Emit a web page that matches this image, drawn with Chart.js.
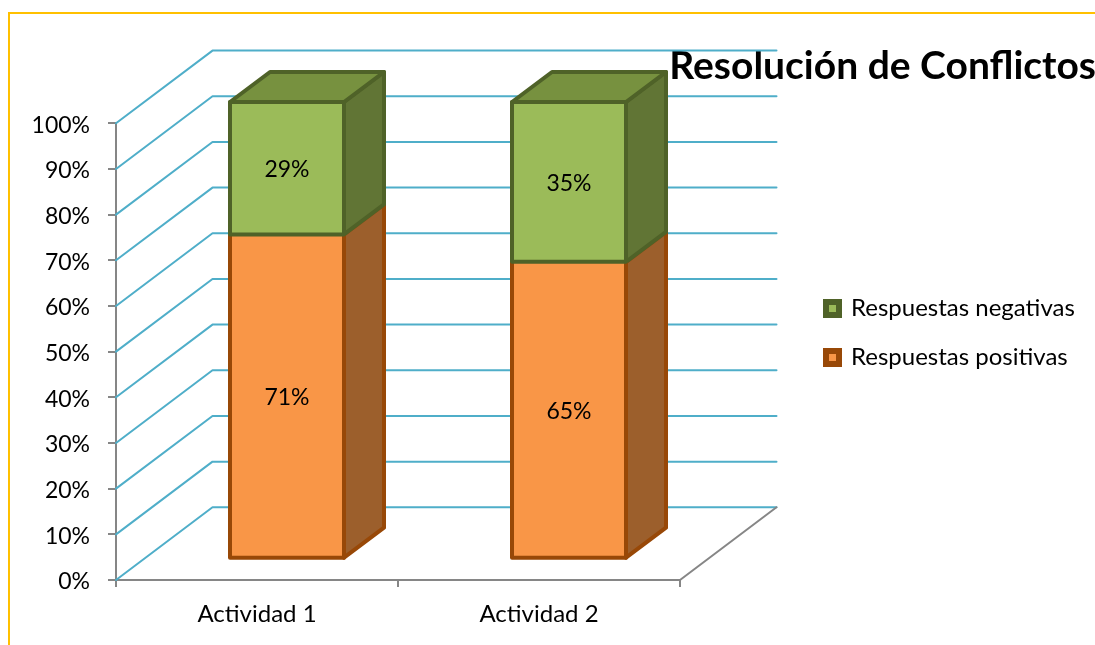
<!DOCTYPE html>
<html><head><meta charset="utf-8">
<style>html,body{margin:0;padding:0;background:#fff;overflow:hidden}canvas{display:block}
#frame{position:absolute;left:8px;top:12px;width:1200px;height:800px;border:2px solid #FFC000;box-sizing:border-box}</style>
<script src="https://cdn.jsdelivr.net/npm/chart.js@4"></script>
</head><body>
<canvas id="c" width="1095" height="645" style="width:1095px;height:645px"></canvas>
<div id="frame"></div>
<script>
const categories = ['Actividad 1', 'Actividad 2'];
const positivas = [71, 65];
const negativas = [29, 35];
const seriesNames = ['Respuestas positivas', 'Respuestas negativas'];
const chartTitle = 'Resolución de Conflictos';

const FONT = 'Lato';
const WALL = {dx: 96.5, dy: 72.7};
const SHIFT = {dx: 30, dy: 21.3};
const DEPTH = {dx: 40, dy: 30};
const SIDE = ['#9C5F2C', '#617535'];
const EDGE = ['#984807', '#4F6228'];
const TOP = '#77913F';
const GRID = '#4FAEC9';
const AXIS = '#868686';
const LW = 4;

function poly(ctx, pts, fill, stroke, lw) {
  ctx.beginPath();
  pts.forEach((p, i) => i ? ctx.lineTo(p[0], p[1]) : ctx.moveTo(p[0], p[1]));
  if (fill) { ctx.closePath(); ctx.fillStyle = fill; ctx.fill(); }
  ctx.strokeStyle = stroke; ctx.lineWidth = lw; ctx.lineJoin = 'round'; ctx.lineCap = 'round'; ctx.stroke();
}

const bars3d = {
  id: 'bars3d',
  afterLayout(chart) {
    const t = chart.titleBlock;
    t.left = 600; t.right = 1096; t.top = 43; t.bottom = 90;
    const l = chart.legend;
    l.left = 801; l.right = 1095; l.top = 271.5; l.bottom = 420;
  },
  beforeDatasetsDraw(chart) {
    const {ctx, scales: {x, y}, chartArea: a} = chart;
    ctx.save();
    y.ticks.forEach(t => {
      const py = y.getPixelForValue(t.value);
      poly(ctx, [[a.left, py], [a.left + WALL.dx, py - WALL.dy], [a.right + WALL.dx, py - WALL.dy]], null, GRID, 2);
    });
    const y0 = y.getPixelForValue(0);
    poly(ctx, [[a.right, y0], [a.right + WALL.dx, y0 - WALL.dy]], null, AXIS, 2);
    ctx.restore();
    ctx.save();
    ctx.translate(SHIFT.dx, -SHIFT.dy);
    chart.data.datasets.forEach((ds, di) => {
      chart.getDatasetMeta(di).data.forEach(el => {
        const r = el.x + el.width / 2, l = el.x - el.width / 2;
        poly(ctx, [[r, el.y], [r + DEPTH.dx, el.y - DEPTH.dy], [r + DEPTH.dx, el.base - DEPTH.dy], [r, el.base]], SIDE[di], EDGE[di], LW);
        if (di === chart.data.datasets.length - 1) {
          poly(ctx, [[l, el.y], [l + DEPTH.dx, el.y - DEPTH.dy], [r + DEPTH.dx, el.y - DEPTH.dy], [r, el.y]], TOP, EDGE[di], LW);
        }
      });
    });
  },
  afterDatasetsDraw(chart) {
    const {ctx} = chart;
    chart.data.datasets.forEach((ds, di) => {
      chart.getDatasetMeta(di).data.forEach(el => {
        const r = el.x + el.width / 2, l = el.x - el.width / 2;
        if (di === 0) poly(ctx, [[l, el.y], [l, el.base], [r, el.base], [r, el.y]], null, EDGE[0], LW);
      });
    });
    chart.data.datasets.forEach((ds, di) => {
      chart.getDatasetMeta(di).data.forEach(el => {
        const r = el.x + el.width / 2, l = el.x - el.width / 2;
        if (di === 1) poly(ctx, [[l, el.y], [r, el.y], [r, el.base], [l, el.base]], 'transparent', EDGE[1], LW);
      });
    });
    ctx.font = '23px ' + FONT;
    ctx.fillStyle = '#000';
    ctx.textAlign = 'center';
    ctx.textBaseline = 'middle';
    chart.data.datasets.forEach((ds, di) => {
      chart.getDatasetMeta(di).data.forEach((el, i) => {
        ctx.fillText(ds.data[i] + '%', el.x, (el.y + el.base) / 2 + 1.5);
      });
    });
    ctx.restore();
  }
};

new Chart(document.getElementById('c'), {
  type: 'bar',
  plugins: [bars3d],
  data: {
    labels: categories,
    datasets: [
      {label: seriesNames[0], data: positivas, backgroundColor: '#F99647', borderColor: EDGE[0], borderWidth: 0, clip: false},
      {label: seriesNames[1], data: negativas, backgroundColor: '#9BBB59', borderColor: EDGE[1], borderWidth: 0, clip: false}
    ]
  },
  options: {
    responsive: false,
    animation: false,
    layout: {padding: {left: 0, top: 76.5, right: 415, bottom: 0}},
    datasets: {bar: {barThickness: 114}},
    plugins: {
      tooltip: {enabled: false},
      title: {display: true, text: chartTitle, align: 'end', color: '#000', padding: 0,
        font: {family: FONT, size: 39, weight: 'bold'}},
      legend: {position: 'chartArea', reverse: true, align: 'start',
        labels: {color: '#000', boxWidth: 13, boxHeight: 13, padding: 25,
          font: {family: FONT, size: 24},
          generateLabels(chart) {
            return chart.data.datasets.map((d, i) => ({text: d.label, fillStyle: d.backgroundColor,
              strokeStyle: d.borderColor, lineWidth: 6, datasetIndex: i, hidden: false}));
          }}}
    },
    scales: {
      x: {
        stacked: true,
        afterFit(s) { s.height = 65; },
        border: {color: AXIS, width: 2},
        grid: {drawOnChartArea: false, drawTicks: true, tickLength: 7, color: AXIS, lineWidth: 2},
        ticks: {color: '#000', padding: 13, maxRotation: 0, font: {family: FONT, size: 24}}
      },
      y: {
        stacked: true, min: 0, max: 100,
        afterFit(s) { s.width = 116; },
        border: {color: AXIS, width: 2},
        grid: {drawOnChartArea: false, drawTicks: true, tickLength: 8, color: AXIS, lineWidth: 2},
        ticks: {color: '#000', stepSize: 10, padding: 18, labelOffset: 2, font: {family: FONT, size: 23},
          callback: v => v + '%'}
      }
    }
  }
});
</script>
</body></html>
